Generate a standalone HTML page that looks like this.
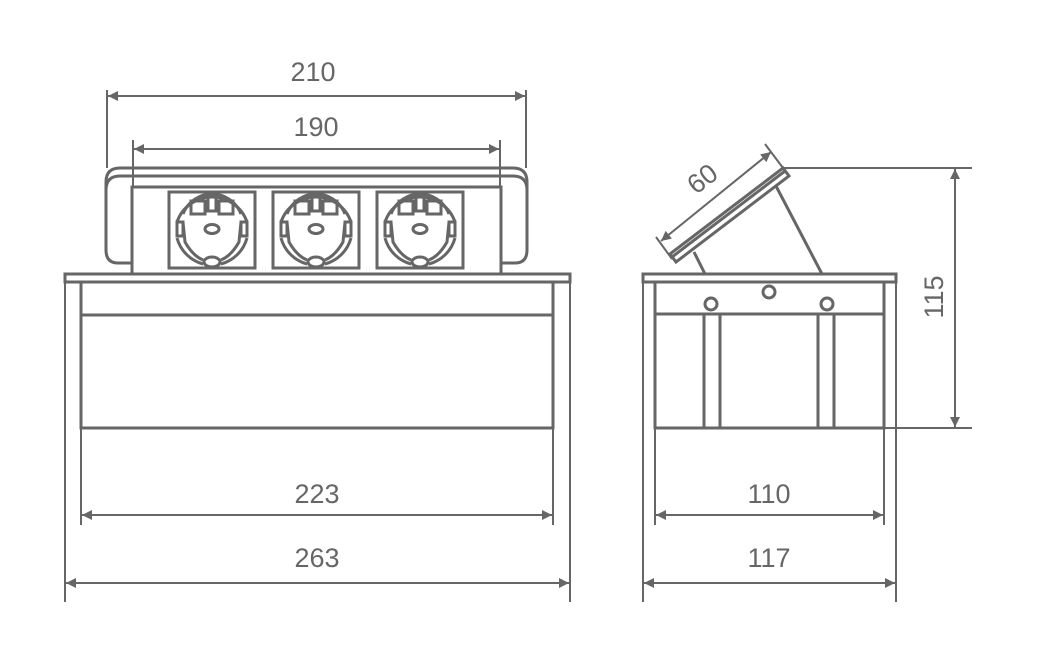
<!DOCTYPE html>
<html><head><meta charset="utf-8"><style>
html,body{margin:0;padding:0;background:#fff;}
svg{display:block}
text{font-family:"Liberation Sans",sans-serif;font-size:27px;fill:#666;font-weight:300}
</style></head><body>
<svg width="1043" height="648" viewBox="0 0 1043 648" xmlns="http://www.w3.org/2000/svg">
<defs>
<marker id="a" viewBox="0 0 10 10" refX="10" refY="5" markerWidth="14" markerHeight="10" markerUnits="userSpaceOnUse" orient="auto-start-reverse"><path d="M0,0 L10,5 L0,10 z" fill="#666"/></marker>
<g id="s" fill="none" stroke="#666" stroke-width="3">
<rect x="0" y="0" width="86" height="76"/>
<path d="M8,30 A37,37 0 0 1 78,30 M8,46 A37,37 0 0 0 34,72 M78,46 A37,37 0 0 1 52,72"/>
<path d="M14,22 A31,31 0 0 1 72,22"/>
<path d="M14,30 L16,50 Q24,64 34,68 M72,30 L70,50 Q62,64 52,68"/>
<rect x="22" y="9" width="14" height="13"/><rect x="50" y="9" width="14" height="13"/><rect x="39" y="5" width="8" height="14"/>
<rect x="8" y="30" width="6" height="14"/><rect x="72" y="30" width="6" height="14"/>
<ellipse cx="43" cy="37" rx="7" ry="4.5"/>
<ellipse cx="43" cy="70" rx="8" ry="5"/>
</g>
</defs>
<g fill="none" stroke="#666" stroke-width="3">
<rect x="65" y="274" width="505" height="8"/>
<rect x="81" y="282" width="472" height="146"/>
<line x1="81" y1="315" x2="553" y2="315"/>
<path d="M106,182 Q106,168 120,168 L513,168 Q527,168 527,182 L527,250 Q527,263 515,263 L501,263"/>
<path d="M132,263 L118,263 Q106,263 106,250 L106,182"/>
<line x1="120" y1="176" x2="513" y2="176"/>
<path d="M120,176 Q106,176 106,190 M513,176 Q527,176 527,190"/>
<rect x="132" y="187" width="369" height="87"/>
</g>
<use href="#s" x="169" y="192"/>
<use href="#s" x="273" y="192"/>
<use href="#s" x="377" y="192"/>
<g fill="none" stroke="#666" stroke-width="2">
<line x1="65" y1="282" x2="65" y2="602"/><line x1="570" y1="282" x2="570" y2="602"/>
<line x1="81" y1="428" x2="81" y2="525"/><line x1="553" y1="428" x2="553" y2="525"/>
<line x1="107" y1="90" x2="107" y2="168"/><line x1="526" y1="90" x2="526" y2="168"/>
<line x1="133" y1="140" x2="133" y2="187"/><line x1="500" y1="140" x2="500" y2="187"/>
<line x1="108" y1="96" x2="525" y2="96" marker-start="url(#a)" marker-end="url(#a)"/>
<line x1="134" y1="149" x2="499" y2="149" marker-start="url(#a)" marker-end="url(#a)"/>
<line x1="82" y1="515" x2="552" y2="515" marker-start="url(#a)" marker-end="url(#a)"/>
<line x1="66" y1="583" x2="569" y2="583" marker-start="url(#a)" marker-end="url(#a)"/>
</g>
<text x="313" y="81" text-anchor="middle">210</text>
<text x="316" y="136" text-anchor="middle">190</text>
<text x="317" y="503" text-anchor="middle">223</text>
<text x="317" y="567" text-anchor="middle">263</text>
<g fill="none" stroke="#666" stroke-width="3">
<rect x="643" y="274" width="253" height="8"/>
<rect x="655" y="282" width="229" height="146"/>
<line x1="655" y1="314" x2="884" y2="314"/>
<rect x="704" y="314" width="16" height="114"/>
<rect x="818" y="314" width="16" height="114"/>
<circle cx="711" cy="304" r="6"/><circle cx="827" cy="304" r="6"/><circle cx="769" cy="292" r="6"/>
<polygon points="670,254 783,168 789,176 676,262"/>
<line x1="672" y1="257" x2="785" y2="171"/>
<line x1="694" y1="252" x2="705" y2="274"/>
<line x1="776" y1="186" x2="822" y2="274"/>
</g>
<g fill="none" stroke="#666" stroke-width="2">
<line x1="643" y1="282" x2="643" y2="602"/><line x1="896" y1="282" x2="896" y2="602"/>
<line x1="655" y1="428" x2="655" y2="525"/><line x1="884" y1="428" x2="884" y2="525"/>
<line x1="782" y1="168" x2="972" y2="168"/><line x1="884" y1="428" x2="972" y2="428"/>
<line x1="656" y1="237" x2="672" y2="259"/><line x1="765" y1="144" x2="786" y2="172"/>
<line x1="661" y1="241" x2="771" y2="152" marker-start="url(#a)" marker-end="url(#a)"/>
<line x1="955" y1="169" x2="955" y2="427" marker-start="url(#a)" marker-end="url(#a)"/>
<line x1="656" y1="515" x2="883" y2="515" marker-start="url(#a)" marker-end="url(#a)"/>
<line x1="644" y1="583" x2="895" y2="583" marker-start="url(#a)" marker-end="url(#a)"/>
</g>
<text x="0" y="0" text-anchor="middle" transform="translate(708,186) rotate(-38)">60</text>
<text x="0" y="0" text-anchor="middle" transform="translate(943,297) rotate(-90)">115</text>
<text x="769" y="503" text-anchor="middle">110</text>
<text x="769" y="567" text-anchor="middle">117</text>
</svg>
</body></html>
